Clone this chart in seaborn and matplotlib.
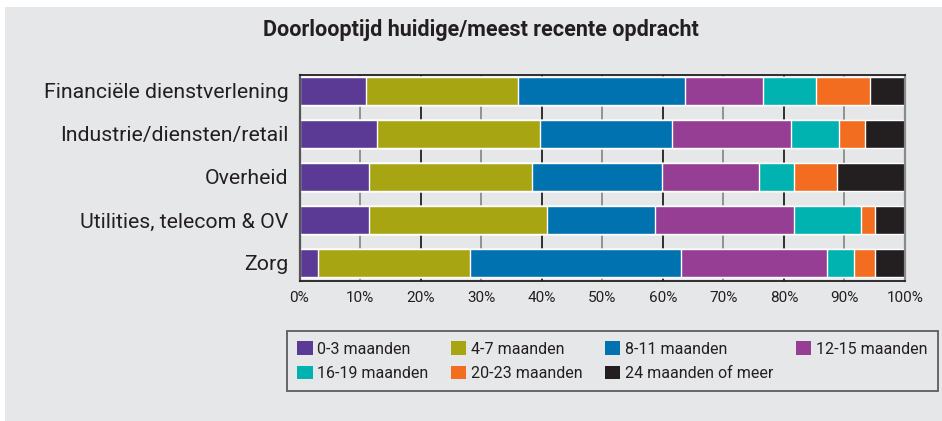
import numpy as np
import pandas as pd
import seaborn as sns
from matplotlib import pyplot as plt
from matplotlib.patches import Rectangle, Patch

# data (percent per sector)
sectors = ['Financiële dienstverlening', 'Industrie/diensten/retail', 'Overheid',
           'Utilities, telecom & OV', 'Zorg']
durations = ['0-3 maanden', '4-7 maanden', '8-11 maanden', '12-15 maanden',
             '16-19 maanden', '20-23 maanden', '24 maanden of meer']
m0_3 = [11.0, 12.8, 11.5, 11.5, 3.1]
m4_7 = [25.1, 26.9, 26.9, 29.4, 25.1]
m8_11 = [27.6, 21.8, 21.5, 17.8, 34.8]
m12_15 = [12.8, 19.7, 16.0, 23.0, 24.1]
m16_19 = [8.75, 7.9, 5.7, 11.1, 4.4]
m20_23 = [8.95, 4.3, 7.2, 2.2, 3.5]
m24_plus = [5.8, 6.6, 11.2, 5.0, 5.0]

colors = ['#5b3a96', '#a8a513', '#0072b0', '#963d94', '#00b2b0', '#f36d21', '#231f20']
bg = '#e6e7e8'
dark = '#231f20'

sns.set_style('white')
plt.rcParams['font.family'] = ['Roboto', 'DejaVu Sans']

fig = plt.figure(figsize=(9.42, 4.21), dpi=100, facecolor='white')
fig.patches.append(Rectangle((5 / 942, 0), 1, 1 - 7 / 421, transform=fig.transFigure,
                             facecolor=bg, edgecolor='none', zorder=-10))

ax = fig.add_axes([299.5 / 942, 1 - 281 / 421, 605.5 / 942, 206 / 421])
ax.set_facecolor(bg)

values = np.array([m0_3, m4_7, m8_11, m12_15, m16_19, m20_23, m24_plus])
cum = np.cumsum(values, axis=0)

# stacked bars: draw cumulative totals back to front
for i in range(len(durations) - 1, -1, -1):
    df = pd.DataFrame({'sector': sectors, 'pct': cum[i]})
    sns.barplot(data=df, x='pct', y='sector', orient='h', color=colors[i],
                width=0.65, saturation=1, ax=ax, zorder=3)

for v in range(10, 100, 10):
    ax.axvline(v, color=dark if v % 20 == 0 else '#8a8a8a', lw=1.3, zorder=1)

ax.set_xlim(0, 100)
ax.set_ylim(4.42, -0.37)
ax.set_xticks(range(0, 101, 10))
ax.set_xticklabels([f'{v}%' for v in range(0, 101, 10)])
ax.set_xlabel('')
ax.set_ylabel('')
ax.tick_params(axis='x', length=0, pad=7, labelsize=11, labelcolor=dark)
ax.tick_params(axis='y', length=0, pad=8, labelsize=15.3, labelcolor=dark)

for side in ['top', 'bottom']:
    ax.spines[side].set_color(dark)
    ax.spines[side].set_linewidth(1.3)
ax.spines['left'].set_color('#555555')
ax.spines['left'].set_linewidth(1.6)
ax.spines['right'].set_color('#8a8a8a')
ax.spines['right'].set_linewidth(1.6)
for s in ax.spines.values():
    s.set_zorder(5)

fig.text(0.51, 1 - 30 / 421, 'Doorlooptijd huidige/meest recente opdracht',
         ha='center', va='center', fontsize=15.5, fontweight='bold', color=dark)

handles = [Patch(facecolor=c, edgecolor='none') for c in colors]
order = [0, 4, 1, 5, 2, 6, 3]
leg = fig.legend([handles[i] for i in order], [durations[i] for i in order],
                 ncol=4, loc='upper left', mode='expand',
                 bbox_to_anchor=(287 / 942, 1 - 331 / 421, 651 / 942, 0.0),
                 frameon=True, fancybox=False, facecolor=bg, edgecolor='#3a3a3a',
                 fontsize=11.5, handlelength=0.95, handleheight=0.95,
                 handletextpad=0.3, labelspacing=0.55, borderpad=0.65,
                 borderaxespad=0, labelcolor=dark)
leg.get_frame().set_linewidth(1.3)

fig.savefig('out.png', dpi=100, facecolor='white')
